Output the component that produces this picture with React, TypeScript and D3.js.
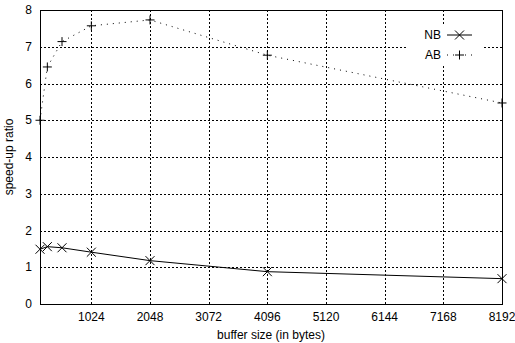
import React, { useEffect, useRef } from 'react';
import * as d3 from 'd3';

const bufferSizes = [128, 256, 512, 1024, 2048, 4096, 8192];
const nbValues = [1.49, 1.56, 1.53, 1.41, 1.18, 0.88, 0.69];
const abValues = [5.0, 6.45, 7.14, 7.57, 7.73, 6.77, 5.47];
const xTicks = [1024, 2048, 3072, 4096, 5120, 6144, 7168, 8192];
const yTicks = [0, 1, 2, 3, 4, 5, 6, 7, 8];

const App = () => {
  const svgRef = useRef<SVGSVGElement>(null);

  useEffect(() => {
    if (!svgRef.current) return;
    const svg = d3.select(svgRef.current);
    svg.selectAll('*').remove();

    const width = 515;
    const height = 343;
    const margin = { top: 10, right: 13, bottom: 39, left: 40 };
    const font = 'Liberation Sans, Arial, sans-serif';
    const fs = '12px';

    svg.attr('width', width).attr('height', height);

    const x = d3.scaleLinear().domain([128, 8192]).range([margin.left, width - margin.right]);
    const y = d3.scaleLinear().domain([0, 8]).range([height - margin.bottom, margin.top]);
    const px = (v: number) => Math.round(v) + 0.5;

    const g = svg.append('g');

    // grid lines
    g.selectAll('.vgrid')
      .data(xTicks.slice(0, -1))
      .enter()
      .append('line')
      .attr('x1', d => px(x(d))).attr('x2', d => px(x(d)))
      .attr('y1', y(0)).attr('y2', y(8))
      .attr('stroke', '#000').attr('stroke-width', 1)
      .attr('stroke-dasharray', '2,2')
      .attr('shape-rendering', 'crispEdges');

    g.selectAll('.hgrid')
      .data(yTicks.slice(1, -1))
      .enter()
      .append('line')
      .attr('x1', x(128)).attr('x2', x(8192))
      .attr('y1', d => px(y(d))).attr('y2', d => px(y(d)))
      .attr('stroke', '#000').attr('stroke-width', 1)
      .attr('stroke-dasharray', '2,2')
      .attr('shape-rendering', 'crispEdges');

    // legend background hides the grid behind it
    g.append('rect')
      .attr('x', 408).attr('y', 24).attr('width', 74).attr('height', 40)
      .attr('fill', '#fff');

    // frame
    g.append('rect')
      .attr('x', px(x(128))).attr('y', px(y(8)))
      .attr('width', Math.round(x(8192) - x(128))).attr('height', Math.round(y(0) - y(8)))
      .attr('fill', 'none').attr('stroke', '#000').attr('stroke-width', 1)
      .attr('shape-rendering', 'crispEdges');

    // tick labels
    g.selectAll('.ylab')
      .data(yTicks)
      .enter()
      .append('text')
      .attr('x', margin.left - 8)
      .attr('y', d => y(d) + 4)
      .attr('text-anchor', 'end')
      .attr('font-family', font).attr('font-size', fs)
      .text(d => d);

    g.selectAll('.xlab')
      .data(xTicks)
      .enter()
      .append('text')
      .attr('x', d => x(d))
      .attr('y', y(0) + 17)
      .attr('text-anchor', 'middle')
      .attr('font-family', font).attr('font-size', fs)
      .text(d => d);

    g.append('text')
      .attr('x', (x(128) + x(8192)) / 2)
      .attr('y', height - 4)
      .attr('text-anchor', 'middle')
      .attr('font-family', font).attr('font-size', fs)
      .text('buffer size (in bytes)');

    g.append('text')
      .attr('transform', `translate(13, ${(y(0) + y(8)) / 2}) rotate(-90)`)
      .attr('text-anchor', 'middle')
      .attr('font-family', font).attr('font-size', fs)
      .text('speed-up ratio');

    const line = d3.line<number>()
      .x((d, i) => x(bufferSizes[i]))
      .y(d => y(d));

    // AB series
    g.append('path')
      .datum(abValues)
      .attr('d', line)
      .attr('fill', 'none').attr('stroke', '#000').attr('stroke-width', 1)
      .attr('stroke-dasharray', '1,5');

    // NB series
    g.append('path')
      .datum(nbValues)
      .attr('d', line)
      .attr('fill', 'none').attr('stroke', '#000').attr('stroke-width', 1);

    const s = 4.5;
    const plus = (cx: number, cy: number) => `M${cx - s},${cy}H${cx + s}M${cx},${cy - s}V${cy + s}`;
    const cross = (cx: number, cy: number) => `M${cx - s},${cy - s}L${cx + s},${cy + s}M${cx - s},${cy + s}L${cx + s},${cy - s}`;

    g.selectAll('.abpt')
      .data(abValues)
      .enter()
      .append('path')
      .attr('d', (d, i) => plus(x(bufferSizes[i]), y(d)))
      .attr('stroke', '#000').attr('stroke-width', 1).attr('fill', 'none');

    g.selectAll('.nbpt')
      .data(nbValues)
      .enter()
      .append('path')
      .attr('d', (d, i) => cross(x(bufferSizes[i]), y(d)))
      .attr('stroke', '#000').attr('stroke-width', 1).attr('fill', 'none');

    // legend
    const legend = g.append('g');
    const entries = [
      { name: 'NB', dash: null, marker: cross },
      { name: 'AB', dash: '1,5', marker: plus },
    ];
    entries.forEach((e, i) => {
      const ly = 35 + i * 20;
      legend.append('text')
        .attr('x', 441).attr('y', ly + 4)
        .attr('text-anchor', 'end')
        .attr('font-family', font).attr('font-size', fs)
        .text(e.name);
      legend.append('line')
        .attr('x1', 447).attr('x2', 472)
        .attr('y1', ly).attr('y2', ly)
        .attr('stroke', '#000').attr('stroke-width', 1)
        .attr('stroke-dasharray', e.dash);
      legend.append('path')
        .attr('d', e.marker(459.5, ly))
        .attr('stroke', '#000').attr('stroke-width', 1).attr('fill', 'none');
    });
  }, []);

  return <svg ref={svgRef} style={{ position: 'absolute', left: 0, top: 0 }}></svg>;
};

export default App;
